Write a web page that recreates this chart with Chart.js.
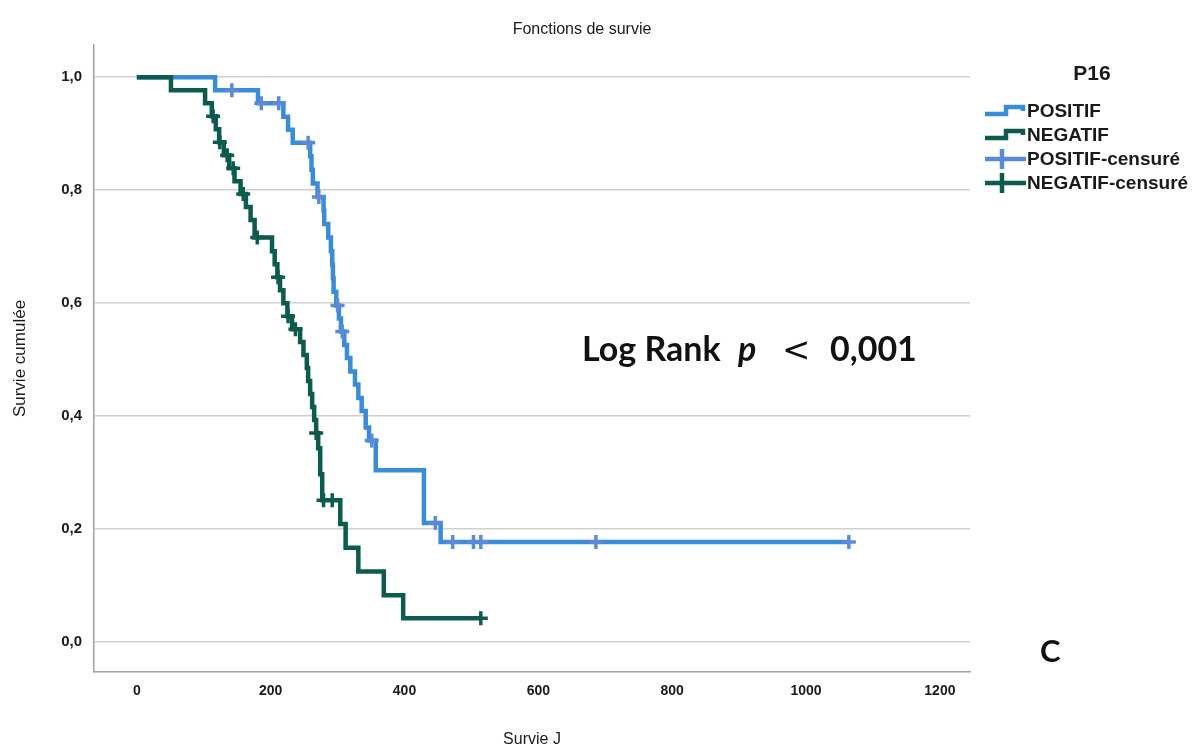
<!DOCTYPE html>
<html>
<head>
<meta charset="utf-8">
<script src="https://cdn.jsdelivr.net/npm/chart.js@4.4.1/dist/chart.umd.min.js"></script>
<style>
  html, body { margin: 0; padding: 0; background: #fff; }
  #wrap { width: 1200px; height: 751px; }
</style>
</head>
<body>
<div id="wrap"><canvas id="kmChart" width="1200" height="751"></canvas></div>
<script>
// Kaplan-Meier steps (day, survival after that day)
const posTimes = [0, 117, 181, 219, 226, 233, 259, 261, 263, 270, 279, 280, 286, 290, 292, 293, 294, 298, 302, 305, 310, 314, 319, 326, 331, 336, 342, 347, 357, 429, 454, 1064];
const posSurv  = [1.0, 0.977, 0.954, 0.930, 0.907, 0.884, 0.860, 0.836, 0.812, 0.788, 0.764, 0.740, 0.716, 0.692, 0.668, 0.644, 0.620, 0.596, 0.573, 0.550, 0.526, 0.503, 0.479, 0.456, 0.432, 0.409, 0.380, 0.357, 0.304, 0.211, 0.177, 0.177];

const negTimes = [0, 51, 102, 112, 118, 123, 130, 138, 146, 155, 163, 170, 176, 202, 206, 210, 214, 219, 225, 232, 244, 249, 254, 256, 259, 262, 265, 268, 271, 274, 277, 304, 312, 331, 369, 398, 514];
const negSurv  = [1.0, 0.977, 0.954, 0.931, 0.908, 0.885, 0.862, 0.839, 0.816, 0.793, 0.770, 0.747, 0.716, 0.692, 0.669, 0.646, 0.623, 0.600, 0.577, 0.554, 0.531, 0.508, 0.485, 0.462, 0.439, 0.416, 0.393, 0.370, 0.343, 0.297, 0.251, 0.209, 0.167, 0.125, 0.083, 0.042, 0.042];

// censored observations
const posCensorTimes = [142, 186, 212, 256, 272, 300, 307, 351, 446, 472, 503, 514, 686, 1064];
const posCensorSurv  = [0.977, 0.954, 0.954, 0.884, 0.788, 0.596, 0.550, 0.357, 0.211, 0.177, 0.177, 0.177, 0.177, 0.177];

const negCensorTimes = [114, 124, 135, 144, 159, 180, 211, 226, 237, 268, 279, 292, 514];
const negCensorSurv  = [0.931, 0.885, 0.862, 0.839, 0.793, 0.716, 0.646, 0.577, 0.554, 0.370, 0.251, 0.251, 0.042];

const xTicks = [0, 200, 400, 600, 800, 1000, 1200];
const yTicks = [0, 0.2, 0.4, 0.6, 0.8, 1.0];

const legendLabels = ['POSITIF', 'NEGATIF', 'POSITIF-censuré', 'NEGATIF-censuré'];

const POS_COLOR = '#3a8bd8';
const NEG_COLOR = '#0d5a4f';
const POS_CENS_COLOR = '#5b8bd8';

const toPoints = (xs, ys) => xs.map((x, i) => ({ x: x, y: ys[i] }));

Chart.defaults.font.family = '"Liberation Sans", Arial, sans-serif';
Chart.defaults.color = '#1a1a1a';

const annotations = {
    id: 'annotations',
    afterDraw(chart) {
        const ctx = chart.ctx;
        ctx.save();
        ctx.fillStyle = '#1a1a1a';
        ctx.textBaseline = 'middle';

        // title
        ctx.font = '16px "Liberation Sans", Arial, sans-serif';
        ctx.textAlign = 'center';
        ctx.fillText('Fonctions de survie', 582, 30);

        // legend
        ctx.font = 'bold 21px "Liberation Sans", Arial, sans-serif';
        ctx.fillText('P16', 1092, 74);
        ctx.textAlign = 'left';
        ctx.font = 'bold 19px "Liberation Sans", Arial, sans-serif';
        const rows = [111, 135, 159, 183];
        const colors = [POS_COLOR, NEG_COLOR, POS_CENS_COLOR, NEG_COLOR];
        rows.forEach((y, i) => {
            ctx.strokeStyle = colors[i];
            ctx.lineWidth = 4.5;
            ctx.beginPath();
            if (i < 2) {
                ctx.moveTo(985, y + 3);
                ctx.lineTo(1006, y + 3);
                ctx.lineTo(1006, y - 4);
                ctx.lineTo(1023, y - 4);
                ctx.lineTo(1023, y);
            } else {
                ctx.moveTo(985, y);
                ctx.lineTo(1026, y);
                ctx.moveTo(1002, y - 10);
                ctx.lineTo(1002, y + 10);
            }
            ctx.stroke();
            ctx.fillStyle = '#1a1a1a';
            ctx.fillText(legendLabels[i], 1027, y + 1);
        });

        // log rank annotation
        ctx.fillStyle = '#111';
        ctx.textBaseline = 'alphabetic';
        ctx.font = 'bold 34px Lato, "Open Sans", sans-serif';
        ctx.fillText('Log Rank', 582, 361);
        ctx.font = 'italic bold 34px Lato, "Open Sans", sans-serif';
        ctx.fillText('p', 738, 361);
        ctx.font = '34px "DejaVu Sans", sans-serif';
        ctx.fillText('<', 782, 361);
        ctx.font = 'bold 34px Lato, "Open Sans", sans-serif';
        ctx.fillText('0,001', 830, 361);

        // panel letter
        ctx.font = 'bold 31px Lato, "Open Sans", sans-serif';
        ctx.fillText('C', 1040, 662);
        ctx.restore();
    }
};

const ctx = document.getElementById('kmChart').getContext('2d');
const kmChart = new Chart(ctx, {
    type: 'line',
    data: {
        datasets: [
            {
                label: 'POSITIF-censuré',
                type: 'scatter',
                data: toPoints(posCensorTimes, posCensorSurv),
                pointStyle: 'cross',
                pointRadius: 7,
                borderWidth: 3.5,
                borderColor: POS_CENS_COLOR,
                backgroundColor: POS_CENS_COLOR,
                clip: false
            },
            {
                label: 'NEGATIF-censuré',
                type: 'scatter',
                data: toPoints(negCensorTimes, negCensorSurv),
                pointStyle: 'cross',
                pointRadius: 7,
                borderWidth: 3.5,
                borderColor: NEG_COLOR,
                backgroundColor: NEG_COLOR,
                clip: false
            },
            {
                label: 'NEGATIF',
                data: toPoints(negTimes, negSurv),
                stepped: 'before',
                borderColor: NEG_COLOR,
                borderWidth: 4.5,
                pointRadius: 0,
                fill: false
            },
            {
                label: 'POSITIF',
                data: toPoints(posTimes, posSurv),
                stepped: 'before',
                borderColor: POS_COLOR,
                borderWidth: 4.5,
                pointRadius: 0,
                fill: false
            }
        ]
    },
    options: {
        responsive: false,
        animation: false,
        layout: {
            padding: { top: 45, right: 230, left: 0, bottom: 0 }
        },
        plugins: {
            legend: { display: false },
            tooltip: { enabled: false },
            title: { display: false }
        },
        scales: {
            x: {
                type: 'linear',
                min: -64,
                max: 1245,
                afterBuildTicks: (scale) => { scale.ticks = xTicks.map(v => ({ value: v })); },
                afterFit: (scale) => { scale.height = 79; },
                ticks: {
                    padding: 11,
                    maxRotation: 0,
                    color: '#1a1a1a',
                    font: { size: 14, weight: 'bold' },
                    callback: (v) => String(v)
                },
                grid: { display: false, drawTicks: false },
                border: { display: true, color: '#a0a0a0', width: 1.5 },
                title: {
                    display: true,
                    text: 'Survie J',
                    color: '#1a1a1a',
                    font: { size: 16 },
                    padding: { top: 0, bottom: 2 }
                }
            },
            y: {
                min: -0.053,
                max: 1.057,
                afterBuildTicks: (scale) => { scale.ticks = yTicks.map(v => ({ value: v })); },
                afterFit: (scale) => { scale.width = 94; },
                ticks: {
                    padding: 12,
                    color: '#1a1a1a',
                    font: { size: 15, weight: 'bold' },
                    callback: (v) => v.toFixed(1).replace('.', ',')
                },
                grid: {
                    color: '#d0d0d0',
                    lineWidth: 1.5,
                    drawTicks: false
                },
                border: { display: true, color: '#a0a0a0', width: 1.5 },
                title: {
                    display: true,
                    text: 'Survie cumulée',
                    color: '#1a1a1a',
                    font: { size: 17 },
                    padding: { top: 10, bottom: 0 }
                }
            }
        }
    },
    plugins: [annotations]
});
</script>
</body>
</html>
